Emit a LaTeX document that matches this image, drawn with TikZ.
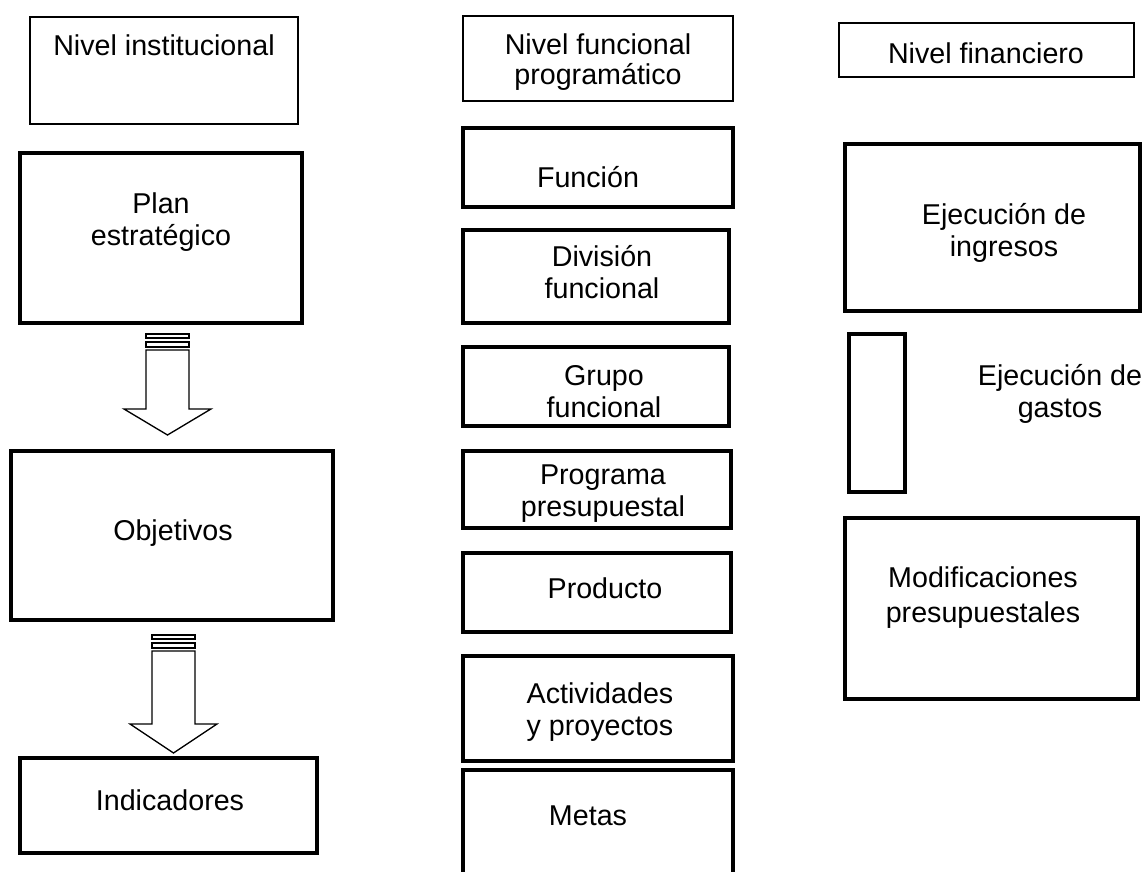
\documentclass[tikz,border=0pt]{standalone}
\usepackage{fontspec}
\setmainfont{Liberation Sans}

\begin{document}
\begin{tikzpicture}[x=0.75pt, y=-0.75pt, font=\fontsize{21.5}{24}\selectfont,
        thinbox/.style={draw, line width=1pt, inner sep=0pt},
        thickbox/.style={draw, line width=3pt, inner sep=0pt},
        sz/.style 2 args={minimum width=#1*0.75pt, minimum height=#2*0.75pt},
        lbl/.style={align=center, anchor=base, inner sep=0pt},
        blk/.style={draw, line width=1pt}]
        \useasboundingbox (0,0) rectangle (1148,871);

        % headers
        \node[thinbox, sz={268}{107}] (inst) at (164,70.5) {};
        \node[thinbox, sz={270}{85}] (func) at (598,58.5) {};
        \node[thinbox, sz={295}{54}] (fin) at (986.5,50) {};
        \node[lbl] (inst-t) at (164,55) {Nivel institucional};
        \node[lbl] (func-t) at (598,84) {Nivel funcional\\[-2pt]programático};
        \node[lbl] (fin-t) at (986,63) {Nivel financiero};

        % left column
        \node[thickbox, sz={282}{170}] (plan) at (161,238) {};
        \node[thickbox, sz={322}{169}] (obj) at (172,535.5) {};
        \node[thickbox, sz={297}{95}] (ind) at (168.5,805.5) {};
        \node[lbl] (plan-t) at (161,245) {Plan\\estratégico};
        \node[lbl] (obj-t) at (173,540) {Objetivos};
        \node[lbl] (ind-t) at (170,810) {Indicadores};

        \foreach \ax/\ay/\hy/\ty in {146/334/409/435, 152/635/724/753} {
            \draw[blk] (\ax,\ay) rectangle (\ax+43,\ay+4);
            \draw[blk] (\ax,\ay+8) rectangle (\ax+43,\ay+13);
            \draw[blk] (\ax,\ay+16) -- (\ax,\hy) -- (\ax-22,\hy) -- (\ax+21.5,\ty)
                -- (\ax+65,\hy) -- (\ax+43,\hy) -- (\ax+43,\ay+16) -- cycle;
        }

        % middle column
        \node[thickbox, sz={270}{79}] (fun) at (598,167.5) {};
        \node[thickbox, sz={266}{93}] (div) at (596,276.5) {};
        \node[thickbox, sz={266}{79}] (gru) at (596,386.5) {};
        \node[thickbox, sz={268}{77}] (pro) at (597,489.5) {};
        \node[thickbox, sz={268}{79}] (prd) at (597,592.5) {};
        \node[thickbox, sz={270}{105}] (act) at (598,708.5) {};
        \node[thickbox, sz={270}{120}] (met) at (598,830) {};
        \node[lbl] (fun-t) at (588,187) {Función};
        \node[lbl] (div-t) at (602,298) {División\\funcional};
        \node[lbl] (gru-t) at (604,417) {Grupo\\funcional};
        \node[lbl] (pro-t) at (603,516) {Programa\\presupuestal};
        \node[lbl] (prd-t) at (605,598) {Producto};
        \node[lbl] (act-t) at (600,735) {Actividades\\y proyectos};
        \node[lbl] (met-t) at (588,825) {Metas};

        % right column
        \node[thickbox, sz={295}{167}] (ing) at (992.5,227.5) {};
        \node[thickbox, sz={56}{158}] (gas) at (877,413) {};
        \node[thickbox, sz={293}{181}] (mod) at (991.5,608.5) {};
        \node[lbl] (ing-t) at (1004,256) {Ejecución de\\ingresos};
        \node[lbl] (gas-t) at (1060,417) {Ejecución de\\gastos};
        \node[lbl] (mod-t) at (983,622) {Modificaciones\\[2pt]presupuestales};
    \end{tikzpicture}
\end{document}
